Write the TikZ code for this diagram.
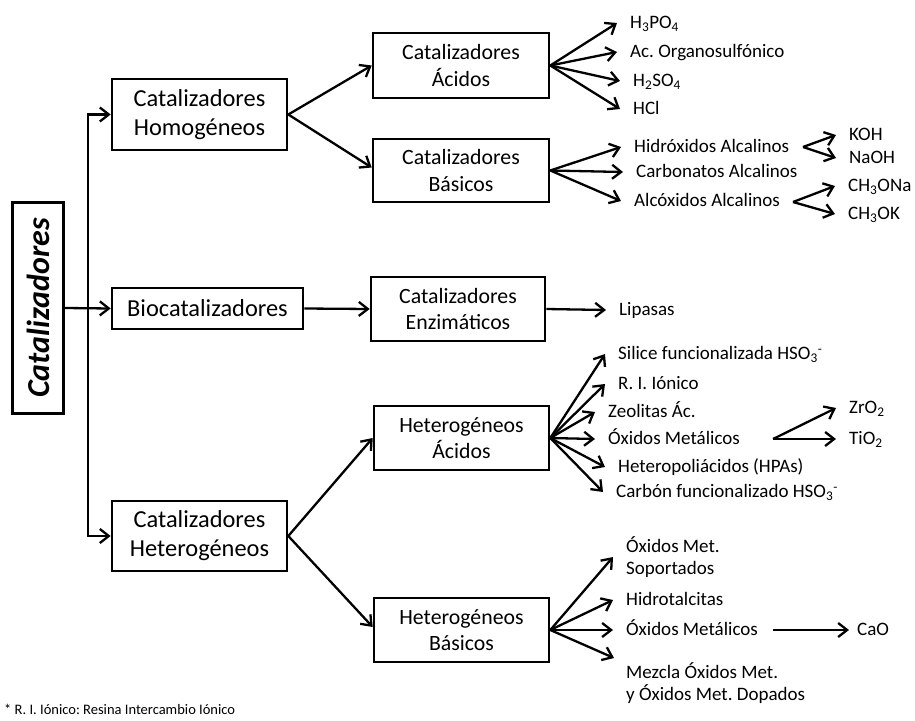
\documentclass[tikz,border=0pt]{standalone}
\usepackage{fontspec}
\setmainfont{Carlito}
\usetikzlibrary{arrows.meta}
\frenchspacing
\begin{document}
\begin{tikzpicture}[x=1pt,y=1pt,
  box/.style={draw, line width=2.6pt, inner sep=0pt, align=center,
    font=\fontsize{24.4}{29}\selectfont},
  subbox/.style={box, font=\fontsize{21.8}{26.5}\selectfont},
  lbl/.style={anchor=west, inner xsep=13pt, inner ysep=0pt, align=left,
    text height=14pt, text depth=3pt, font=\fontsize{19}{22}\selectfont},
  arr/.style={line width=2.3pt, -{Straight Barb[length=9pt,width=14pt]}},
  plain/.style={line width=2.3pt}
]
\useasboundingbox (0,-720) rectangle (915,0);

% root and first level
\node[box, minimum width=51pt, minimum height=211pt] (root) at (38,-308)
  {\rotatebox{90}{\fontsize{32}{36}\selectfont\bfseries\itshape Catalizadores}};
\node[box, minimum width=175pt, minimum height=71pt] (homo) at (199.5,-114.5)
  {Catalizadores\\Homogéneos};
\node[box, minimum width=191pt, minimum height=41pt] (bio) at (207.5,-308.5)
  {Biocatalizadores};
\node[box, minimum width=175pt, minimum height=70pt] (hete) at (199.5,-536)
  {Catalizadores\\Heterogéneos};

% second level
\node[subbox, minimum width=176pt, minimum height=65pt] (acid) at (461,-65.5)
  {Catalizadores\\Ácidos};
\node[subbox, minimum width=176pt, minimum height=63pt] (basic) at (461,-170.5)
  {Catalizadores\\Básicos};
\node[subbox, minimum width=174pt, minimum height=64pt] (enz) at (458,-309)
  {Catalizadores\\Enzimáticos};
\node[subbox, minimum width=175pt, minimum height=64pt] (hacid) at (461.5,-438)
  {Heterogéneos\\Ácidos};
\node[subbox, minimum width=175pt, minimum height=64pt] (hbasic) at (461.5,-630)
  {Heterogéneos\\Básicos};

% trunk
\coordinate (tt) at (88,-114.5);
\coordinate (tb) at (88,-536);
\draw[plain] (tt) -- (tb);
\draw[arr] (tb) -- (tt) -- (homo.west);
\draw[arr] (tt) -- (tb) -- (hete.west);
\draw[arr] (root.east) -- (bio.west);

\draw[arr] (homo.east) -- (acid.west);
\draw[arr] (homo.east) -- ([yshift=3pt]basic.west);
\draw[arr] (bio.east) -- (enz.west);
\draw[arr] (hete.east) -- (hacid.west);
\draw[arr] (hete.east) -- ([yshift=3pt]hbasic.west);

% acid catalysts
\node[lbl] (h3po4) at (617,-23) {H\textsubscript{3}PO\textsubscript{4}};
\node[lbl] (aco) at (617,-52) {Ac. Organosulfónico};
\node[lbl] (h2so4) at (620,-81) {H\textsubscript{2}SO\textsubscript{4}};
\node[lbl] (hcl) at (620,-109) {HCl};
\foreach \t in {h3po4,aco,h2so4,hcl} \draw[arr] (acid.east) -- (\t.west);

% basic catalysts
\node[lbl] (hidrox) at (621,-147) {Hidróxidos Alcalinos};
\node[lbl] (carb) at (623,-172) {Carbonatos Alcalinos};
\node[lbl] (alcox) at (621,-201) {Alcóxidos Alcalinos};
\foreach \t in {hidrox,carb,alcox} \draw[arr] (basic.east) -- (\t.west);
\node[lbl] (koh) at (836,-135) {KOH};
\node[lbl] (naoh) at (836,-158) {NaOH};
\node[lbl] (ch3ona) at (835,-186) {CH\textsubscript{3}ONa};
\node[lbl] (ch3ok) at (835,-214) {CH\textsubscript{3}OK};
\coordinate (hx) at (803,-147);
\coordinate (ax) at (793,-202);
\draw[arr] (hx) -- (koh.west);
\draw[arr] (hx) -- (naoh.west);
\draw[arr] (ax) -- (ch3ona.west);
\draw[arr] (ax) -- (ch3ok.west);

% enzymatic
\node[lbl] (lip) at (606,-310) {Lipasas};
\draw[arr] (enz.east) -- (lip.west);

% heterogeneous acid
\node[lbl] (sil) at (605,-354) {Silice funcionalizada HSO\textsubscript{3}\textsuperscript{-}};
\node[lbl] (rii) at (605,-384) {R. I. Iónico};
\node[lbl] (zeo) at (595,-412) {Zeolitas Ác.};
\node[lbl] (oxa) at (595,-439) {Óxidos Metálicos};
\node[lbl] (hpa) at (605,-467) {Heteropoliácidos (HPAs)};
\node[lbl] (carbon) at (603,-492) {Carbón funcionalizado HSO\textsubscript{3}\textsuperscript{-}};
\foreach \t in {sil,rii,zeo,oxa,hpa,carbon} \draw[arr] (hacid.east) -- (\t.west);
\node[lbl] (zro2) at (836,-408) {ZrO\textsubscript{2}};
\node[lbl] (tio2) at (836,-439) {TiO\textsubscript{2}};
\coordinate (ox) at (773,-439);
\draw[arr] (ox) -- (zro2.west);
\draw[arr] (ox) -- (tio2.west);

% heterogeneous basic
\node[lbl, text height=35pt, text depth=0pt, font=\fontsize{19}{22}\selectfont]
  (sop) at (613,-557) {Óxidos Met.\\Soportados};
\node[lbl] (hid) at (613,-600) {Hidrotalcitas};
\node[lbl] (oxb) at (613,-630) {Óxidos Metálicos};
\node[anchor=west, inner xsep=13pt, inner ysep=0pt, align=left,
  font=\fontsize{19}{21.5}\selectfont] (mez) at (613,-683)
  {Mezcla Óxidos Met.\\y Óxidos Met. Dopados};
\coordinate (mz) at (614,-658);
\foreach \t in {sop,hid,oxb} \draw[arr] (hbasic.east) -- (\t.west);
\draw[arr] (hbasic.east) -- (mz);
\node[lbl, inner xsep=8pt] (cao) at (849,-630) {CaO};
\coordinate (cx) at (773,-630);
\draw[arr] (cx) -- (cao.west);

% footnote
\node[anchor=west, inner sep=0pt, font=\fontsize{14.5}{16}\selectfont] (note) at (4,-709)
  {* R. I. Iónico: Resina Intercambio Iónico};
\end{tikzpicture}
\end{document}
